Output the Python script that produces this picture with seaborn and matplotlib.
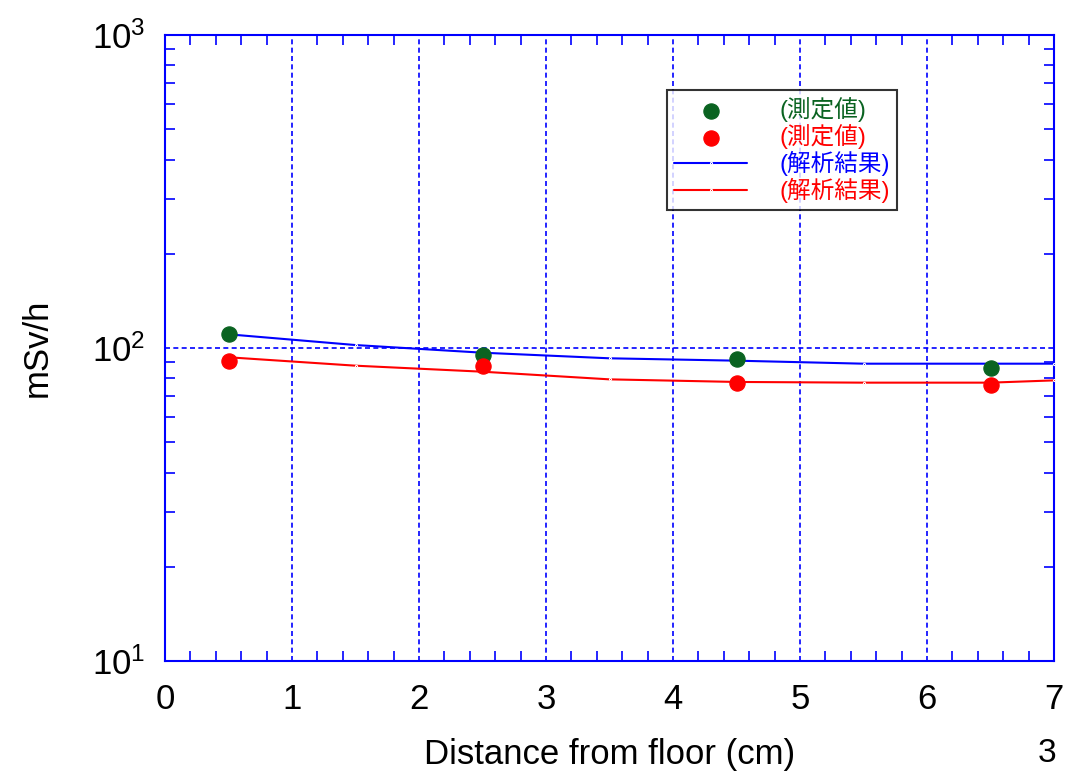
import numpy as np
import pandas as pd
import seaborn as sns
from matplotlib import pyplot as plt
from matplotlib.ticker import MultipleLocator, LogLocator, FixedLocator

# data

meas_x = [0.5, 2.5, 4.5, 6.5]
meas_green = [110.6, 95.0, 92.0, 86.5]
meas_red = [91.1, 87.8, 77.1, 76.0]

calc_x = [0.5, 1.5, 2.5, 3.5, 4.5, 5.5, 6.5, 7.0]
calc_blue = [110.6, 102.2, 96.6, 92.7, 91.1, 89.1, 89.1, 89.1]
calc_red = [93.4, 87.8, 84.0, 79.4, 77.9, 77.5, 77.5, 78.8]

label_meas = '(測定値)'
label_calc = '(解析結果)'
ytick_labels = ['$10^1$', '$10^2$', '$10^3$']

green = '#0a6321'
red = '#ff0000'
blue = '#0000ff'

sns.set_style('white')
plt.rcParams['font.family'] = ['Liberation Sans', 'Noto Sans CJK JP', 'DejaVu Sans']
plt.rcParams['mathtext.fontset'] = 'custom'
plt.rcParams['mathtext.rm'] = 'Liberation Sans'
plt.rcParams['mathtext.it'] = 'Liberation Sans'
plt.rcParams['mathtext.default'] = 'regular'
plt.rcParams['text.color'] = 'black'
plt.rcParams['axes.labelcolor'] = 'black'

fig = plt.figure(figsize=(10.65, 7.71), dpi=100)
ax = fig.add_axes([165 / 1065, 1 - 661 / 771, (1054 - 165) / 1065, (661 - 35) / 771])

sns.scatterplot(x=meas_x, y=meas_green, color=green, s=120, edgecolor=green, ax=ax, label=label_meas, zorder=4)
sns.scatterplot(x=meas_x, y=meas_red, color=red, s=120, edgecolor=red, ax=ax, label=label_meas, zorder=4)
sns.lineplot(x=calc_x, y=calc_blue, color=blue, lw=1.5, marker='.', markersize=3, ax=ax, label=label_calc, zorder=3)
sns.lineplot(x=calc_x, y=calc_red, color=red, lw=1.5, marker='.', markersize=3, ax=ax, label=label_calc, zorder=3)

ax.set_yscale('log')
ax.set_xlim(0, 7)
ax.set_ylim(10, 1000)

ax.xaxis.set_major_locator(MultipleLocator(1))
ax.xaxis.set_minor_locator(MultipleLocator(0.2))
ax.yaxis.set_major_locator(FixedLocator([10, 100, 1000]))
ax.yaxis.set_minor_locator(LogLocator(base=10, subs=np.arange(2, 10)))
ax.set_yticklabels(ytick_labels)

ax.grid(True, which='major', color=blue, ls=(0, (3, 2)), lw=1.2)
for sp in ax.spines.values():
    sp.set_color(blue)
    sp.set_linewidth(1.5)
ax.tick_params(which='both', direction='in', color=blue, top=True, right=True,
               bottom=True, left=True, labelsize=25, labelcolor='black')
ax.tick_params(which='major', length=0)
ax.tick_params(axis='x', which='major', pad=16)
ax.tick_params(axis='y', which='major', pad=14)
ax.tick_params(which='minor', length=7, width=1.2)

ax.set_xlabel('Distance from floor (cm)', fontsize=25, labelpad=16)
ax.set_ylabel('mSv/h', fontsize=25, labelpad=28)

leg = ax.legend(loc='upper left', bbox_to_anchor=((667 - 165) / 889, 1 - (90 - 35) / 626),
                frameon=True, fancybox=False, edgecolor='black', fontsize=17,
                borderpad=0.3, labelspacing=0.08, handlelength=3.1, handletextpad=1.35,
                borderaxespad=0)
leg.get_frame().set_linewidth(1.5)
for txt, c in zip(leg.get_texts(), [green, red, blue, red]):
    txt.set_color(c)

fig.text(1038 / 1065, 1 - 754 / 771, '3', fontsize=24, va='center', ha='left')

fig.savefig('out.png', dpi=100)
